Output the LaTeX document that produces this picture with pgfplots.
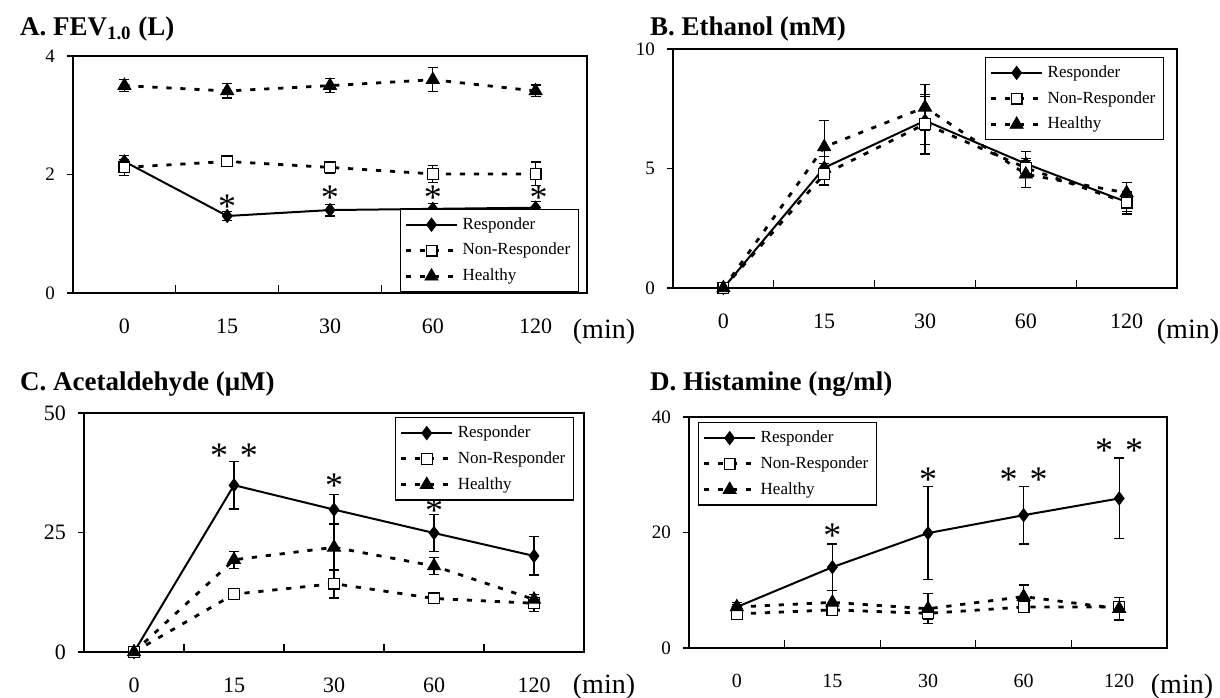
\documentclass[border=0pt]{standalone}
\usepackage{fontspec}
\setmainfont{Liberation Serif}
\usepackage{pgfplots}
\pgfplotsset{compat=1.18}
\pgfplotsset{
  panel/.style={
    scale only axis, clip=false,
    axis line style={line width=0.6pt},
    xmin=-0.5, xmax=4.5,
    xtick={0,1,2,3,4}, xticklabels={0,15,30,60,120},
    minor xtick={0.5,1.5,2.5,3.5},
    major x tick style={draw=none},
    xtick pos=bottom, ytick pos=left,
    xtick align=inside, ytick align=outside,
    minor tick length=4pt, major tick length=3pt,
    tick style={line width=0.6pt, black},
    /pgf/number format/assume math mode=true,
    xticklabel style={font=\fontsize{11}{12}\selectfont, yshift=-9.5pt},
    yticklabel style={font=\fontsize{9.5}{10}\selectfont, xshift=-2.5pt},
    legend cell align=left,
    legend image code/.code={\draw[mark repeat=2, mark phase=2] plot coordinates {(0cm,0cm) (0.45cm,0cm) (0.9cm,0cm)};},
    legend style={draw=black, line width=0.6pt, font=\fontsize{8.5}{9.5}\selectfont,
      inner xsep=2pt, inner ysep=2pt, row sep=1.5pt},
  },
  resp/.style={black, solid, line width=1pt, mark=diamond*, mark size=3.3pt,
    mark options={solid, fill=black, line width=0.4pt}},
  nonr/.style={black, line width=1.4pt, dash pattern=on 2.6pt off 4.4pt, mark=square*, mark size=2.7pt,
    mark options={solid, fill=white, line width=0.6pt}},
  heal/.style={black, line width=1.4pt, dash pattern=on 2.6pt off 4.4pt, mark=triangle*, mark size=3.8pt,
    mark options={solid, fill=black, line width=0.4pt}},
  eb/.style={error bars/y dir=both, error bars/y explicit,
    error bars/error bar style={solid, line width=0.6pt},
    error bars/error mark options={solid, line width=0.6pt, mark size=2.5pt, rotate=90}},
}
\tikzset{sigstar/.style={font=\fontsize{18}{18}\selectfont, inner sep=0pt, yshift=-2.3pt}}
\begin{document}
\begin{tikzpicture}
\useasboundingbox (0,0) rectangle (610pt,-348.5pt);

% A. FEV1.0
\begin{axis}[panel, at={(36.5pt,-146.5pt)}, anchor=south west,
  width=257pt, height=118.5pt, ymin=0, ymax=4, ytick={0,2,4},
  legend style={at={(0.984,0.003)}, anchor=south east}]
\addplot[resp, eb] coordinates {(0,2.22) +- (0,0.1) (1,1.30) +- (0,0.08) (2,1.40) +- (0,0.1) (3,1.42) +- (0,0.09) (4,1.44) +- (0,0.1)};
\addplot[nonr, eb] coordinates {(0,2.12) +- (0,0.14) (1,2.22) +- (0,0.05) (2,2.12) +- (0,0.1) (3,2.01) +- (0,0.14) (4,2.01) +- (0,0.2)};
\addplot[heal, eb] coordinates {(0,3.50) +- (0,0.1) (1,3.41) +- (0,0.12) (2,3.50) +- (0,0.12) (3,3.60) +- (0,0.2) (4,3.41) +- (0,0.1)};
\legend{Responder, Non-Responder, Healthy}
\node[sigstar] at (axis cs:1,1.54) {*};
\node[sigstar] at (axis cs:2,1.69) {*};
\node[sigstar] at (axis cs:3,1.69) {*};
\node[sigstar] at (axis cs:4.03,1.69) {*};
\end{axis}

% B. Ethanol
\begin{axis}[panel, at={(336.5pt,-144pt)}, anchor=south west,
  width=252pt, height=119.5pt, ymin=0, ymax=10, ytick={0,5,10},
  legend style={at={(0.974,0.967)}, anchor=north east}]
\addplot[resp, eb] coordinates {(0,0) +- (0,0) (1,5.03) +- (0,0.46) (2,7.0) +- (0,1.0) (3,5.2) +- (0,0.5) (4,3.6) +- (0,0.4)};
\addplot[nonr, eb] coordinates {(0,0) +- (0,0) (1,4.76) +- (0,0.45) (2,6.86) +- (0,1.25) (3,5.03) +- (0,0.4) (4,3.57) +- (0,0.47)};
\addplot[heal, eb] coordinates {(0,0) +- (0,0) (1,5.9) +- (0,1.1) (2,7.56) +- (0,0.95) (3,4.76) +- (0,0.56) (4,3.98) +- (0,0.42)};
\legend{Responder, Non-Responder, Healthy}
\end{axis}

% C. Acetaldehyde
\begin{axis}[panel, at={(42pt,-326pt)}, anchor=south west,
  width=250pt, height=119.5pt, ymin=0, ymax=50, ytick={0,25,50},
  yticklabel style={font=\fontsize{11}{12}\selectfont},
  legend style={at={(0.98,0.983)}, anchor=north east}]
\addplot[resp, eb] coordinates {(0,0) +- (0,0) (1,34.9) +- (0,5) (2,29.8) +- (0,3.2) (3,24.9) +- (0,3.9) (4,20.1) +- (0,4)};
\addplot[nonr, eb] coordinates {(0,0) +- (0,0) (1,12.1) +- (0,0.5) (2,14.3) +- (0,3) (3,11.2) +- (0,0.5) (4,10.2) +- (0,1.8)};
\addplot[heal, eb] coordinates {(0,0) +- (0,0) (1,19.3) +- (0,1.8) (2,21.9) +- (0,4.9) (3,18.0) +- (0,1.8) (4,11.0) +- (0,1)};
\legend{Responder, Non-Responder, Healthy}
\node[sigstar] at (axis cs:1,42.1) {*\hspace{6pt}*};
\node[sigstar] at (axis cs:2,35.8) {*};
\node[sigstar] at (axis cs:3,30.6) {*};
\end{axis}

% D. Histamine
\begin{axis}[panel, at={(344.5pt,-324pt)}, anchor=south west,
  width=239pt, height=115.5pt, ymin=0, ymax=40, ytick={0,20,40},
  xticklabel style={font=\fontsize{10}{11}\selectfont},
  legend style={at={(0.019,0.978)}, anchor=north west}]
\addplot[resp, eb] coordinates {(0,7.1) +- (0,0.8) (1,14.0) +- (0,4) (2,19.9) +- (0,8) (3,23.0) +- (0,5) (4,25.9) +- (0,7)};
\addplot[nonr, eb] coordinates {(0,5.9) +- (0,0.5) (1,6.6) +- (0,0.5) (2,6.0) +- (0,1) (3,7.1) +- (0,0.5) (4,7.1) +- (0,0.5)};
\addplot[heal, eb] coordinates {(0,7.1) +- (0,0.5) (1,7.9) +- (0,2) (2,6.8) +- (0,2.6) (3,8.9) +- (0,2) (4,6.8) +- (0,1.95)};
\legend{Responder, Non-Responder, Healthy}
\node[sigstar] at (axis cs:1,20.3) {*};
\node[sigstar] at (axis cs:2,29.9) {*};
\node[sigstar] at (axis cs:3,29.9) {*\hspace{6pt}*};
\node[sigstar] at (axis cs:4,34.9) {*\hspace{6pt}*};
\end{axis}

% titles and unit labels
\node[anchor=base west, font=\bfseries\fontsize{13.5}{15}\selectfont] at (6.5pt,-17.5pt) {A. FEV\textsubscript{1.0} (L)};
\node[anchor=base west, font=\bfseries\fontsize{13.5}{15}\selectfont] at (321.5pt,-17.5pt) {B. Ethanol (mM)};
\node[anchor=base west, font=\bfseries\fontsize{13.5}{15}\selectfont] at (6.5pt,-195pt) {C. Acetaldehyde (μM)};
\node[anchor=base west, font=\bfseries\fontsize{13.5}{15}\selectfont] at (321.5pt,-195pt) {D. Histamine (ng/ml)};
\node[font=\fontsize{14}{15}\selectfont] at (302pt,-166pt) {(min)};
\node[font=\fontsize{14}{15}\selectfont] at (594pt,-166pt) {(min)};
\node[font=\fontsize{14}{15}\selectfont] at (302pt,-343.5pt) {(min)};
\node[font=\fontsize{14}{15}\selectfont] at (591pt,-343.5pt) {(min)};
\end{tikzpicture}
\end{document}
